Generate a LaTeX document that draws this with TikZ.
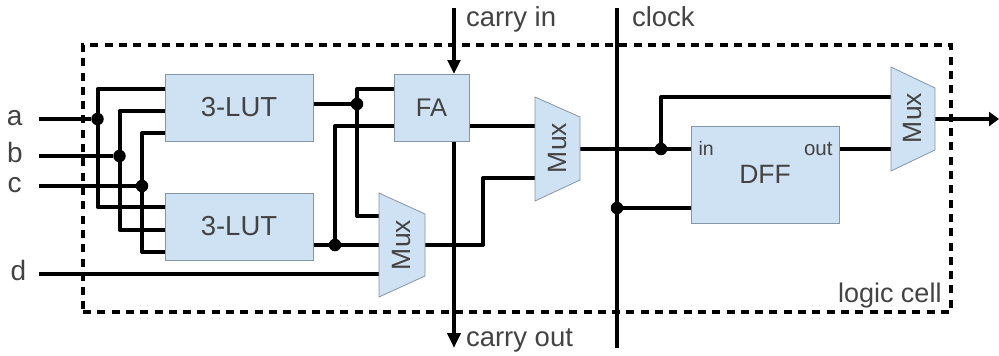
\documentclass[tikz,border=0pt]{standalone}
\usepackage{fontspec}
\setmainfont{Liberation Sans}
\usetikzlibrary{arrows.meta}
\definecolor{boxfill}{HTML}{CFE2F3}
\definecolor{boxline}{HTML}{8496A6}
\definecolor{ink}{HTML}{434343}
\newcommand{\fs}[1]{\fontsize{#1}{#1}\selectfont}
\tikzset{
  x=1pt,y=-1pt,
  wire/.style={line width=4pt,black,line join=round},
  heavy/.style={line width=4.6pt,black,line join=round},
  headed/.style={heavy,-{Triangle[length=14pt,width=12.5pt]}},
  headedout/.style={heavy,-{Triangle[length=10pt,width=14pt]}},
  dot/.style={circle,fill=black,minimum size=12.5pt,inner sep=0pt,outer sep=0pt},
  lbl/.style={text=ink,inner sep=0pt,outer sep=0pt,anchor=base,font=\fs{28}},
  lblw/.style={lbl,anchor=base west,font=\fs{27.5}},
  blockbox/.style={draw=boxline,line width=0.8pt,fill=boxfill,text=ink,inner sep=0pt,outer sep=0pt,font=\fs{27.5}},
  muxbody/.style={draw=boxline,line width=0.8pt,fill=boxfill,line join=miter},
  muxlbl/.style={text=ink,inner sep=0pt,outer sep=0pt,rotate=90,font=\fs{26.5}},
  cellbox/.style={draw=black,line width=4pt,inner sep=0pt,outer sep=0pt,dash pattern=on 8pt off 6.3pt},
}
\begin{document}
\begin{tikzpicture}
\useasboundingbox (0,0) rectangle (999,356);
% logic cell frame
\node[cellbox,minimum width=868pt,minimum height=267pt] (cell) at (517,178.5) {};
% port coordinates
\coordinate (ain) at (39,119);
\coordinate (bin) at (39,156);
\coordinate (cin) at (39,186);
\coordinate (din) at (39,274);
\coordinate (l1a) at (165,89);
\coordinate (l1b) at (165,111);
\coordinate (l1c) at (165,133);
\coordinate (l2a) at (165,207);
\coordinate (l2b) at (165,230);
\coordinate (l2c) at (165,252);
\coordinate (l1o) at (313,104);
\coordinate (l2o) at (313,245);
\coordinate (faa) at (394,89);
\coordinate (fab) at (394,126);
\coordinate (fao) at (469,126);
\coordinate (fat) at (454,74);
\coordinate (fad) at (454,141);
\coordinate (caI) at (454,8);
\coordinate (caO) at (454,348);
\coordinate (ckt) at (617,8);
\coordinate (ckb) at (617,348);
\coordinate (m1a) at (379,216);
\coordinate (m1b) at (379,245);
\coordinate (m1c) at (379,274);
\coordinate (m1o) at (425,245);
\coordinate (m2a) at (535,126);
\coordinate (m2b) at (535,178);
\coordinate (m2o) at (580,149);
\coordinate (bend) at (483,245);
\coordinate (dffi) at (691,149);
\coordinate (dffc) at (691,208);
\coordinate (dffo) at (839,149);
\coordinate (m3a) at (891,97);
\coordinate (m3b) at (891,149);
\coordinate (m3o) at (935,119);
\coordinate (outp) at (999,119);
% junctions
\node[dot] (ja) at (97.5,119) {};
\node[dot] (jb) at (119.5,156) {};
\node[dot] (jc) at (142,186) {};
\node[dot] (jl1) at (357,104) {};
\node[dot] (jl2) at (335,245) {};
\node[dot] (jq) at (661,149) {};
\node[dot] (jck) at (617,208) {};
% connectors
\draw[wire] (ain) -- (ja);
\draw[wire] (bin) -- (jb);
\draw[wire] (cin) -- (jc);
\draw[wire] (din) -- (m1c);
\draw[wire] (l1a) -| (ja.center) |- (l2a);
\draw[wire] (l1b) -| (jb.center) |- (l2b);
\draw[wire] (l1c) -| (jc.center) |- (l2c);
\draw[wire] (l1o) -- (jl1);
\draw[wire] (l2o) -- (m1b);
\draw[wire] (faa) -| (jl1.center) |- (m1a);
\draw[wire] (fab) -| (jl2.center);
\draw[wire] (fao) -- (m2a);
\draw[wire] (m1o) -- (bend) |- (m2b);
\draw[wire] (m2o) -- (dffi);
\draw[wire] (jq.center) |- (m3a);
\draw[wire] (jck) -- (dffc);
\draw[wire] (dffo) -- (m3b);
\draw[headed] (caI) -- (fat);
\draw[heavy,-{Triangle[length=15pt,width=13pt]}] (fad) -- (caO);
\draw[heavy] (ckt) -- (ckb);
\draw[headedout] (m3o) -- (outp);
% blocks
\node[blockbox,minimum width=148pt,minimum height=67pt] (lut1) at (239,107.5) {3-LUT};
\node[blockbox,minimum width=148pt,minimum height=67pt] (lut2) at (239,226.5) {3-LUT};
\node[blockbox,minimum width=75pt,minimum height=67pt,font=\fs{25.5}] (fa) at (431.5,107.5) {FA};
\node[blockbox,minimum width=148pt,minimum height=97pt,font=\fs{26.5}] (dff) at (765,174.5) {DFF};
\draw[muxbody] (379,193) -- (425,214) -- (425,276) -- (379,297) -- cycle;
\draw[muxbody] (535,97) -- (580,117) -- (580,180) -- (535,201) -- cycle;
\draw[muxbody] (891,67) -- (935,88) -- (935,150) -- (891,171) -- cycle;
\node[muxlbl] (mux1) at (402,245) {Mux};
\node[muxlbl] (mux2) at (558,148) {Mux};
\node[muxlbl] (mux3) at (913,118) {Mux};
% labels
\node[lbl] (la) at (14.7,125) {a};
\node[lbl] (lb) at (15,162) {b};
\node[lbl] (lc) at (14.7,192) {c};
\node[lbl] (ld) at (18.5,280) {d};
\node[lblw] (lci) at (466,27) {carry in};
\node[lblw] (lco) at (466,346) {carry out};
\node[lblw] (lck) at (632,27) {clock};
\node[lblw,font=\fs{27}] (lcell) at (838,302) {logic cell};
\node[lblw,font=\fs{19.5}] (lin) at (698.5,155) {in};
\node[lblw,font=\fs{20.5}] (lout) at (804,155) {out};
\end{tikzpicture}
\end{document}
